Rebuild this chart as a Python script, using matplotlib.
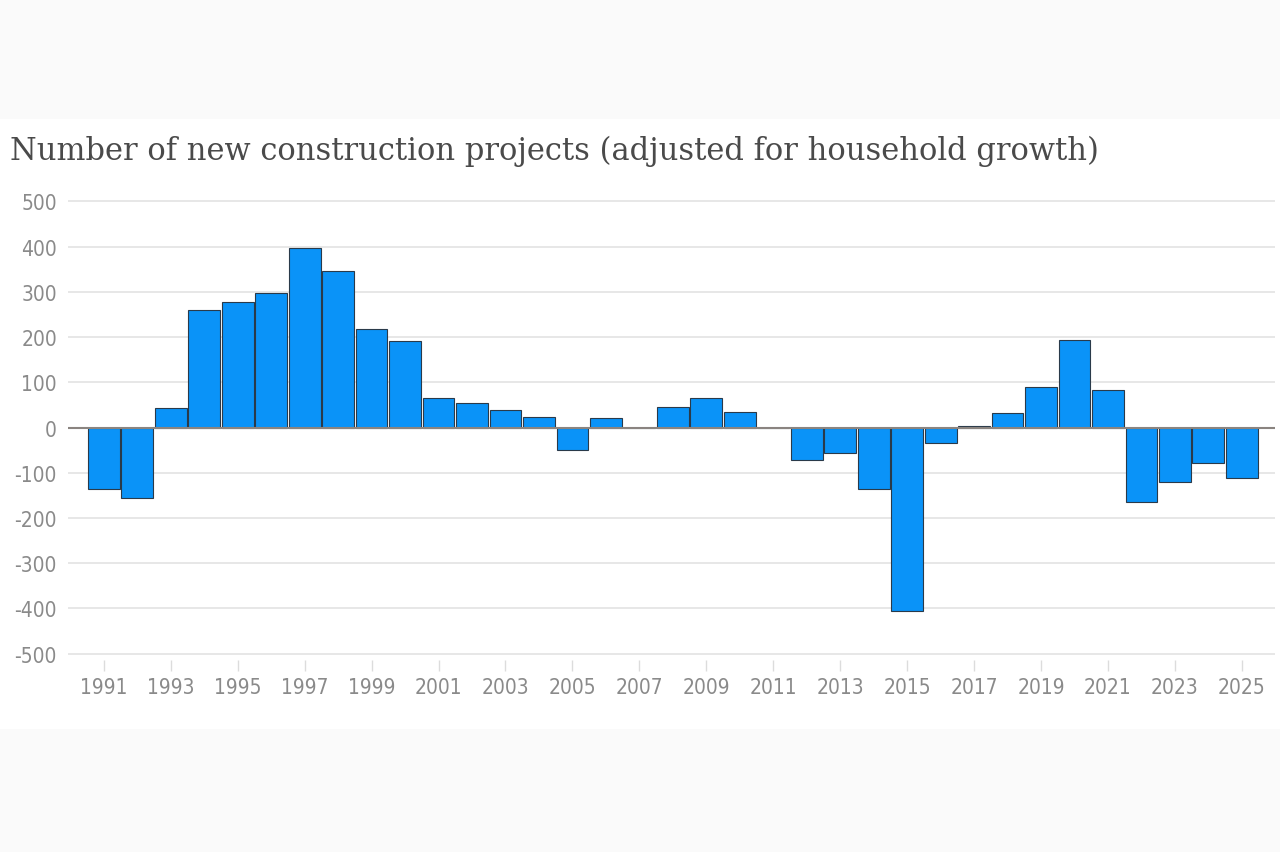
import numpy as np
from matplotlib import pyplot as plt
from matplotlib.patches import Rectangle

years = list(range(1991, 2026))
values = [-136, -157, 43, 260, 277, 298, 397, 347, 218, 192,
          65, 55, 39, 24, -50, 20, 0, 46, 66, 34,
          0, -71, -56, -135, -406, -35, 4, 33, 90, 193,
          82, -164, -121, -78, -112]
yticks = [500, 400, 300, 200, 100, 0, -100, -200, -300, -400, -500]
xticks = years[::2]

title = "Number of new construction projects (adjusted for household growth)"

fig = plt.figure(figsize=(12.8, 8.53), dpi=100, facecolor='#fafafa')
# white band behind the chart
fig.patches.append(Rectangle((0, 1 - 730 / 853), 1, 610 / 853, transform=fig.transFigure,
                             facecolor='white', edgecolor='none', zorder=-5))

ax = fig.add_axes([68 / 1280, 0.2247, (1275 - 68) / 1280, 0.7706 - 0.2247])
ax.set_zorder(2)
ax.set_facecolor('white')

ax.bar(years, values, width=0.95, color='#0a93f8', edgecolor='#2a3a4a', linewidth=0.8, zorder=3)
ax.axhline(0, color='#8a8480', linewidth=1.5, zorder=4)

ax.set_xlim(1989.93, 2025.99)
ax.set_ylim(-515, 515)
ax.set_yticks(yticks)
ax.set_yticklabels([str(v) for v in yticks])
ax.set_xticks(xticks)
ax.set_xticklabels([str(v) for v in xticks])
ax.grid(axis='y', color='#e3e3e3', linewidth=1.2, zorder=0)
for s in ax.spines.values():
    s.set_visible(False)

ax.tick_params(axis='y', length=0, pad=8, labelcolor='#8a8a8a', labelsize=15)
ax.tick_params(axis='x', length=8, width=1, color='#dcdcdc', pad=4, labelcolor='#8a8a8a', labelsize=15)
for lab in ax.get_xticklabels() + ax.get_yticklabels():
    lab.set_family('DejaVu Sans')
    lab.set_stretch('condensed')

fig.text(10 / 1280, 1 - 160 / 853, title, family=['DejaVu Serif'], fontsize=22,
         color='#4a4a4a', ha='left', va='baseline', zorder=5)

plt.savefig("out.png", dpi=100, facecolor=fig.get_facecolor())
